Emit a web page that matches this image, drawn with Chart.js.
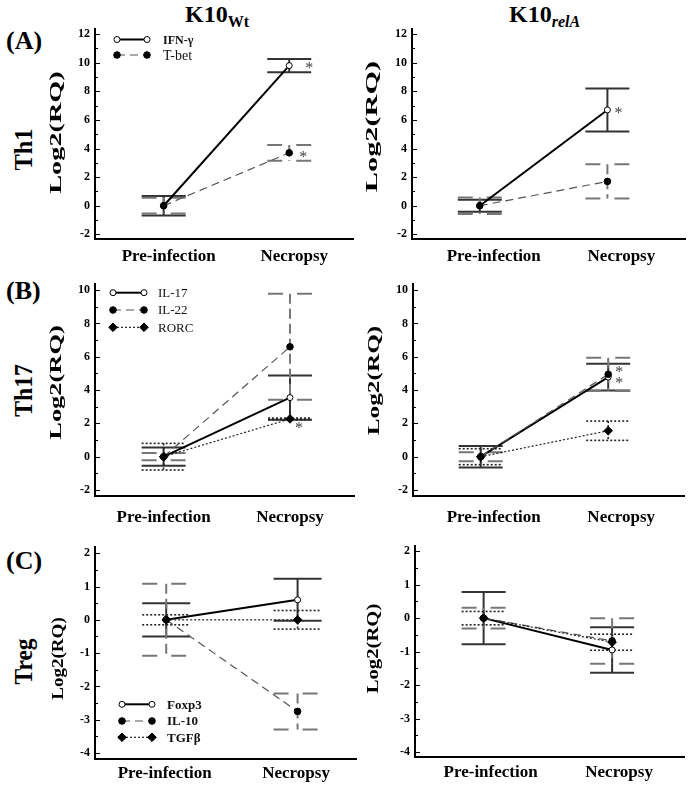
<!DOCTYPE html>
<html>
<head>
<meta charset="utf-8">
<script src="https://cdn.jsdelivr.net/npm/chart.js@4.4.0/dist/chart.umd.min.js"></script>
<style>
  body { margin: 0; background: #fff; }
  #page { position: relative; width: 690px; height: 794px; overflow: hidden;
          font-family: 'Liberation Serif', 'DejaVu Serif', serif; font-weight: bold; color: #000; }
  #page canvas { position: absolute; }
  .txt { position: absolute; white-space: nowrap; line-height: 1; }
  .sub { font-size: 16px; position: relative; top: 5px; }
</style>
</head>
<body>
<div id="page">
  <div class="txt" style="left:185px;top:2px;font-size:24px">K10<span class="sub">Wt</span></div>
  <div class="txt" style="left:509px;top:2px;font-size:24px">K10<span class="sub" style="font-style:italic">relA</span></div>
  <div class="txt" style="left:6px;top:28px;font-size:26px">(A)</div>
  <div class="txt" style="left:6px;top:278px;font-size:26px">(B)</div>
  <div class="txt" style="left:6px;top:548px;font-size:26px">(C)</div>
</div>
<script>
const timepoints = ['Pre-infection', 'Necropsy'];
const th1Labels = [-2, 0, 2, 4, 6, 8, 10, 12];
const th17Labels = [-2, 0, 2, 4, 6, 8, 10];
const tregLabels = [-4, -3, -2, -1, 0, 1, 2];

// Th1
const wtIfng = [0, 9.8];     const wtIfngErr = [0.68, 0.47];
const wtTbet = [0, 3.7];     const wtTbetErr = [0.55, 0.55];
const relIfng = [0, 6.7];    const relIfngErr = [0.42, 1.5];
const relTbet = [0, 1.7];    const relTbetErr = [0.58, 1.2];
// Th17
const wtIl17 = [0, 3.55];    const wtIl17Err = [0.55, 1.33];
const wtIl22 = [0, 6.6];     const wtIl22Err = [0.22, 3.18];
const wtRorc = [0, 2.27];    const wtRorcErr = [0.8, 0.05];
const relIl17 = [0, 4.78];   const relIl17Err = [0.65, 0.8];
const relIl22 = [0, 4.95];   const relIl22Err = [0.27, 1.0];
const relRorc = [0, 1.56];   const relRorcErr = [0.48, 0.58];
// Treg
const wtFoxp3 = [0, 0.6];    const wtFoxp3Err = [0.5, 0.63];
const wtIl10 = [0, -2.75];   const wtIl10Err = [1.08, 0.54];
const wtTgfb = [0, 0];       const wtTgfbErr = [0.15, 0.28];
const relFoxp3 = [0, -0.95]; const relFoxp3Err = [0.78, 0.68];
const relIl10 = [0, -0.68];  const relIl10Err = [0.31, 0.68];
const relTgfb = [0, -0.72];  const relTgfbErr = [0.2, 0.24];

Chart.defaults.font.family = "'Liberation Serif', serif";
Chart.defaults.color = '#000';

const page = document.getElementById('page');

const styles = {
    solid:  { line: '#000', width: 2, dash: [], point: 'circle', radius: 3, fill: '#fff', order: 3,
              err: { color: '#333', width: 2, stem: [], cap: [] } },
    dashed: { line: '#555', width: 1.2, dash: [8, 5], point: 'circle', radius: 3.3, fill: '#000', order: 2,
              err: { color: '#777', width: 2, stem: [10, 5], cap: [15, 14] } },
    dotted: { line: '#222', width: 1.2, dash: [2, 2], point: 'rectRot', radius: 4.3, fill: '#000', order: 1,
              err: { color: '#222', width: 1.6, stem: [2, 2], cap: [2, 2] } },
};

function series(label, values, errors, kind) {
    const st = styles[kind];
    return {
        label: label,
        data: values.map((v, i) => ({ x: i, y: v })),
        errors: errors,
        kind: kind,
        borderColor: st.line,
        borderWidth: st.width,
        borderDash: st.dash,
        pointStyle: st.point,
        pointRadius: st.radius,
        pointBackgroundColor: st.fill,
        pointBorderColor: '#000',
        pointBorderWidth: 1,
        order: st.order,
        fill: false,
        tension: 0,
    };
}

function drawMarker(ctx, kind, x, y) {
    const st = styles[kind];
    ctx.save();
    ctx.setLineDash([]);
    ctx.fillStyle = st.fill;
    ctx.strokeStyle = '#000';
    ctx.lineWidth = 1;
    ctx.beginPath();
    if (st.point === 'rectRot') {
        ctx.moveTo(x, y - st.radius);
        ctx.lineTo(x + st.radius, y);
        ctx.lineTo(x, y + st.radius);
        ctx.lineTo(x - st.radius, y);
        ctx.closePath();
    } else {
        ctx.arc(x, y, st.radius, 0, Math.PI * 2);
    }
    ctx.fill();
    ctx.stroke();
    ctx.restore();
}

// error bars, inner tick marks, asterisks and the in-plot legend
const panelDecor = {
    id: 'panelDecor',
    beforeDatasetsDraw(chart, args, opts) {
        const { ctx, scales: { x, y } } = chart;
        const idx = chart.data.datasets.map((d, i) => i)
            .sort((a, b) => chart.data.datasets[b].order - chart.data.datasets[a].order);
        idx.forEach(i => {
            const ds = chart.data.datasets[i];
            const err = styles[ds.kind].err;
            ds.data.forEach((pt, j) => {
                const e = ds.errors[j];
                const px = x.getPixelForValue(pt.x);
                const top = y.getPixelForValue(pt.y + e);
                const bot = y.getPixelForValue(pt.y - e);
                ctx.save();
                ctx.strokeStyle = err.color;
                ctx.lineWidth = err.width;
                ctx.setLineDash(err.stem);
                ctx.beginPath();
                ctx.moveTo(px, top);
                ctx.lineTo(px, bot);
                ctx.stroke();
                ctx.setLineDash(err.cap);
                [top, bot].forEach(yy => {
                    ctx.beginPath();
                    ctx.moveTo(px - opts.cap, yy);
                    ctx.lineTo(px + opts.cap, yy);
                    ctx.stroke();
                });
                ctx.restore();
            });
        });
    },
    afterDatasetsDraw(chart, args, opts) {
        const { ctx, scales: { x, y } } = chart;
        (opts.stars || []).forEach(s => {
            const pt = chart.data.datasets[s.ds].data[s.i];
            const px = x.getPixelForValue(pt.x) + s.dx;
            const py = y.getPixelForValue(pt.y) + s.dy;
            ctx.save();
            ctx.font = '16px "Liberation Serif"';
            ctx.fillStyle = '#444';
            ctx.textAlign = 'center';
            ctx.textBaseline = 'alphabetic';
            ctx.fillText('*', px, py + 7.5);
            ctx.restore();
        });
    },
    afterDraw(chart, args, opts) {
        const { ctx, chartArea, scales: { y } } = chart;
        ctx.save();
        ctx.strokeStyle = '#000';
        ctx.lineWidth = 1;
        y.ticks.forEach(t => {
            const py = Math.round(y.getPixelForValue(t.value)) + 0.5;
            const len = opts.labels.includes(Math.round(t.value * 100) / 100) ? 5 : 3;
            ctx.beginPath();
            ctx.moveTo(chartArea.left, py);
            ctx.lineTo(chartArea.left + len, py);
            ctx.stroke();
        });
        ctx.restore();

        const lg = opts.legend;
        if (!lg) return;
        const ox = opts.origin.left, oy = opts.origin.top;
        lg.items.forEach(item => {
            const ds = chart.data.datasets[item.ds];
            const st = styles[ds.kind];
            const ly = item.y - oy;
            ctx.save();
            ctx.strokeStyle = st.line;
            ctx.lineWidth = st.width;
            ctx.setLineDash(st.dash);
            ctx.beginPath();
            ctx.moveTo(lg.x0 - ox, ly);
            ctx.lineTo(lg.x1 - ox, ly);
            ctx.stroke();
            ctx.restore();
            drawMarker(ctx, ds.kind, lg.x0 - ox, ly);
            drawMarker(ctx, ds.kind, lg.x1 - ox, ly);
            ctx.save();
            ctx.font = item.font + ' "Liberation Serif"';
            ctx.fillStyle = '#111';
            ctx.textAlign = 'left';
            ctx.textBaseline = 'middle';
            ctx.fillText(ds.label, lg.tx - ox, ly + 1);
            ctx.restore();
        });
    }
};

function makePanel(g, datasets, yLabels, step, extra) {
    const cLeft = g.left - 40;
    const cTop = Math.floor(g.top) - 10;
    const w = g.right - cLeft;
    const h = Math.ceil(g.bottom) + 34 - cTop;
    const canvas = document.createElement('canvas');
    canvas.width = w;
    canvas.height = h;
    canvas.style.left = cLeft + 'px';
    canvas.style.top = cTop + 'px';
    canvas.style.width = w + 'px';
    canvas.style.height = h + 'px';
    page.appendChild(canvas);

    new Chart(canvas, {
        type: 'line',
        data: { datasets: datasets },
        options: {
            responsive: false,
            animation: false,
            events: [],
            layout: { padding: { top: g.top - cTop, left: 0, right: 0, bottom: 0 } },
            scales: {
                x: {
                    type: 'linear',
                    min: g.xMin,
                    max: g.xMax,
                    afterFit: (s) => { s.height = h - (g.bottom - cTop); },
                    grid: { display: false, drawTicks: false },
                    border: { display: true, color: '#000', width: 2 },
                    ticks: {
                        stepSize: 1,
                        includeBounds: false,
                        autoSkip: false,
                        maxRotation: 0,
                        padding: g.xPad,
                        labelOffset: g.labelShift,
                        font: { size: 17, weight: 'bold' },
                        callback: (v) => timepoints[v] || '',
                    },
                },
                y: {
                    min: g.yMin,
                    max: g.yMax,
                    afterFit: (s) => { s.width = 40; },
                    grid: { display: false, drawTicks: false },
                    border: { display: true, color: '#000', width: 2 },
                    ticks: {
                        stepSize: step,
                        includeBounds: false,
                        autoSkip: false,
                        padding: 5,
                        font: { size: 12, weight: 'bold' },
                        callback: (v) => yLabels.includes(Math.round(v * 100) / 100) ? String(Math.round(v)) : '',
                    },
                },
            },
            plugins: {
                legend: { display: false },
                tooltip: { enabled: false },
                panelDecor: Object.assign({ cap: 22, labels: yLabels, origin: { left: cLeft, top: cTop } }, extra),
            },
        },
        plugins: [panelDecor],
    });
}

function rotLabel(text, cx, cy, size, len) {
    const el = document.createElement('div');
    el.className = 'txt';
    el.textContent = text;
    el.style.fontSize = size + 'px';
    page.appendChild(el);
    const w = el.offsetWidth, h = el.offsetHeight;
    el.style.left = (cx - w / 2) + 'px';
    el.style.top = (cy - h / 2) + 'px';
    el.style.transform = 'rotate(-90deg) scaleX(' + (len / w) + ')';
}

// Th1
makePanel({ left: 95, right: 358, top: 27.25, bottom: 239.3, yMin: -2.35, yMax: 12.35,
            xMin: -0.547, xMax: 1.508, xPad: 7.5, labelShift: 5 },
    [series('IFN-γ', wtIfng, wtIfngErr, 'solid'), series('T-bet', wtTbet, wtTbetErr, 'dashed')],
    th1Labels, 1,
    { stars: [{ ds: 0, i: 1, dx: 20, dy: 0 }, { ds: 1, i: 1, dx: 14, dy: 2 }],
      legend: { x0: 117, x1: 147, tx: 163, items: [{ ds: 0, y: 39.5, font: 'bold 12px' }, { ds: 1, y: 55, font: '14px' }] } });
makePanel({ left: 412, right: 690, top: 27.25, bottom: 239.3, yMin: -2.35, yMax: 12.35,
            xMin: -0.531, xMax: 1.608, xPad: 7.5, labelShift: 14 },
    [series('IFN-γ', relIfng, relIfngErr, 'solid'), series('T-bet', relTbet, relTbetErr, 'dashed')],
    th1Labels, 1,
    { stars: [{ ds: 0, i: 1, dx: 11, dy: 1 }] });

// Th17
makePanel({ left: 95, right: 360, top: 282.3, bottom: 496, yMin: -2.36, yMax: 10.36,
            xMin: -0.543, xMax: 1.512, xPad: 11.3, labelShift: 0 },
    [series('IL-17', wtIl17, wtIl17Err, 'solid'), series('IL-22', wtIl22, wtIl22Err, 'dashed'),
     series('RORC', wtRorc, wtRorcErr, 'dotted')],
    th17Labels, 1,
    { stars: [{ ds: 2, i: 1, dx: 9, dy: 7 }],
      legend: { x0: 113, x1: 144, tx: 158, items: [{ ds: 0, y: 292.7, font: '13px' }, { ds: 1, y: 310, font: '13px' },
                                                  { ds: 2, y: 327.3, font: '13px' }] } });
makePanel({ left: 413, right: 690, top: 282.3, bottom: 496, yMin: -2.36, yMax: 10.36,
            xMin: -0.531, xMax: 1.6, xPad: 11.3, labelShift: 13 },
    [series('IL-17', relIl17, relIl17Err, 'solid'), series('IL-22', relIl22, relIl22Err, 'dashed'),
     series('RORC', relRorc, relRorcErr, 'dotted')],
    th17Labels, 1,
    { stars: [{ ds: 1, i: 1, dx: 11, dy: -5 }, { ds: 0, i: 1, dx: 11, dy: 3 }] });

// Treg
makePanel({ left: 95, right: 362, top: 545, bottom: 758.7, yMin: -4.17, yMax: 2.18,
            xMin: -0.542, xMax: 1.45, xPad: 5.1, labelShift: -1.5 },
    [series('Foxp3', wtFoxp3, wtFoxp3Err, 'solid'), series('IL-10', wtIl10, wtIl10Err, 'dashed'),
     series('TGFβ', wtTgfb, wtTgfbErr, 'dotted')],
    tregLabels, 0.5,
    { cap: 24,
      legend: { x0: 122, x1: 152, tx: 167, items: [{ ds: 0, y: 704.3, font: 'bold 13px' }, { ds: 1, y: 721, font: 'bold 13px' },
                                                  { ds: 2, y: 737.3, font: 'bold 13px' }] } });
makePanel({ left: 415, right: 690, top: 544, bottom: 757, yMin: -4.15, yMax: 2.15,
            xMin: -0.534, xMax: 1.565, xPad: 5.1, labelShift: 7 },
    [series('Foxp3', relFoxp3, relFoxp3Err, 'solid'), series('IL-10', relIl10, relIl10Err, 'dashed'),
     series('TGFβ', relTgfb, relTgfbErr, 'dotted')],
    tregLabels, 0.5, {});

rotLabel('Th1', 23.6, 149, 25, 42);
rotLabel('Th17', 23.6, 390, 25, 53);
rotLabel('Treg', 23.6, 661, 25, 46);
rotLabel('Log2(RQ)', 55.8, 132, 17, 123);
rotLabel('Log2(RQ)', 371.8, 126, 17, 132);
rotLabel('Log2(RQ)', 55.8, 382, 17, 115);
rotLabel('Log2(RQ)', 374, 380, 17, 110);
rotLabel('Log2(RQ)', 57.8, 658, 17, 83);
rotLabel('Log2(RQ)', 373, 648, 17, 90);
</script>
</body>
</html>
